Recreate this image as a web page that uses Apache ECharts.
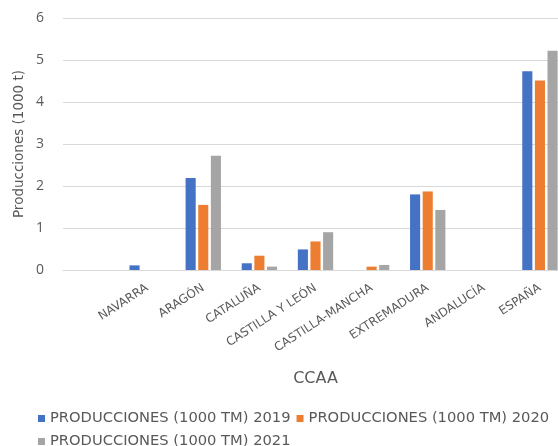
<!DOCTYPE html>
<html>
<head>
<meta charset="utf-8">
<script src="https://cdn.jsdelivr.net/npm/echarts@6/dist/echarts.min.js"></script>
<style>
  html, body { margin: 0; padding: 0; background: #fff; }
  #chart { width: 558px; height: 446px; }
</style>
</head>
<body>
<div id="chart"></div>
<script>
// Regions (the leading blank slot keeps the plot's left margin)
const categories = ['', 'NAVARRA', 'ARAGÓN', 'CATALUÑA', 'CASTILLA Y LEÓN', 'CASTILLA-MANCHA', 'EXTREMADURA', 'ANDALUCÍA', 'ESPAÑA'];

// Production, thousand tonnes
const prod2019 = [null, 0.11, 2.19, 0.16, 0.49, null, 1.80, null, 4.73];
const prod2020 = [null, null, 1.55, 0.34, 0.68, 0.08, 1.87, null, 4.51];
const prod2021 = [null, null, 2.72, 0.08, 0.90, 0.12, 1.43, null, 5.22];

const seriesNames = ['PRODUCCIONES (1000 TM) 2019', 'PRODUCCIONES (1000 TM) 2020', 'PRODUCCIONES (1000 TM) 2021'];
const colors = ['#4472C4', '#ED7D31', '#A5A5A5'];

const yTicks = [0, 1, 2, 3, 4, 5, 6];

const font = '"DejaVu Sans", "Open Sans", sans-serif';
const numFont = '"Open Sans", sans-serif';
const textColor = '#595959';

const chart = echarts.init(document.getElementById('chart'), null, { renderer: 'canvas' });

chart.setOption({
  animation: false,
  color: colors,
  textStyle: { fontFamily: font, color: textColor },
  grid: { left: 63, right: -10, top: 18, bottom: 176, containLabel: false, outerBoundsMode: 'none' },
  legend: {
    data: seriesNames,
    left: 38,
    top: 410,
    width: 520,
    itemWidth: 7,
    itemHeight: 7,
    itemGap: 6,
    icon: 'rect',
    textStyle: { fontFamily: font, fontSize: 14.7, lineHeight: 17, color: textColor },
    padding: 0
  },
  xAxis: {
    type: 'category',
    data: categories,
    name: 'CCAA',
    nameLocation: 'middle',
    nameGap: 101,
    nameMoveOverlap: false,
    nameTextStyle: { fontFamily: font, fontSize: 16, color: textColor },
    axisLine: { lineStyle: { color: '#d9d9d9' } },
    axisTick: { show: false },
    axisLabel: {
      rotate: 33,
      interval: 0,
      margin: 17,
      fontFamily: font,
      fontSize: 12,
      color: textColor
    }
  },
  yAxis: {
    type: 'value',
    min: yTicks[0],
    max: yTicks[yTicks.length - 1],
    interval: 1,
    name: 'Producciones (1000 t)',
    nameLocation: 'middle',
    nameRotate: 90,
    nameGap: 37,
    nameMoveOverlap: false,
    nameTextStyle: { fontFamily: font, fontSize: 13.5, color: textColor },
    axisLine: { show: false },
    axisTick: { show: false },
    axisLabel: { margin: 19, fontFamily: numFont, fontSize: 14, color: textColor },
    splitLine: { lineStyle: { color: '#d9d9d9' } }
  },
  series: [
    { name: seriesNames[0], type: 'bar', data: prod2019, barGap: '25%', barCategoryGap: '37%' },
    { name: seriesNames[1], type: 'bar', data: prod2020, barGap: '25%', barCategoryGap: '37%' },
    { name: seriesNames[2], type: 'bar', data: prod2021, barGap: '25%', barCategoryGap: '37%' }
  ]
});
</script>
</body>
</html>
